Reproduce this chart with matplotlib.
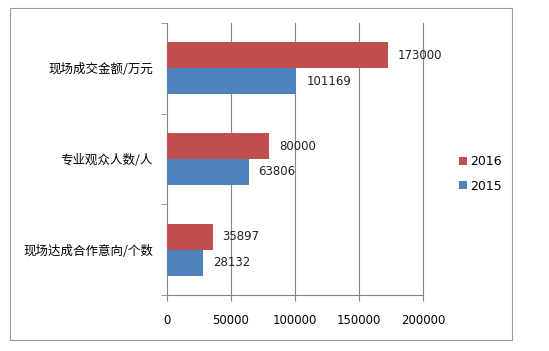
import matplotlib
matplotlib.use("Agg")
import matplotlib.pyplot as plt
from matplotlib.patches import Rectangle
import numpy as np

plt.rcParams['font.family'] = ['Noto Sans CJK SC', 'DejaVu Sans']

categories = ["现场达成合作意向/个数", "专业观众人数/人", "现场成交金额/万元"]
values_2015 = [28132, 63806, 101169]
values_2016 = [35897, 80000, 173000]
series_names = ["2016", "2015"]
xticks = [0, 50000, 100000, 150000, 200000]

red = "#C0504D"
blue = "#4F81BD"
grey = "#868686"

W, H = 549, 351
fig = plt.figure(figsize=(W / 100, H / 100), dpi=100)
fig.patch.set_facecolor("white")

# axes box in pixel coords: x 167..423, y 23..295
ax = fig.add_axes([167 / W, 1 - 295 / H, (423 - 167) / W, (295 - 23) / H])

y = np.arange(len(categories))
h = 0.285
ax.barh(y + h / 2, values_2016, height=h, color=red, label=series_names[0], zorder=3)
ax.barh(y - h / 2, values_2015, height=h, color=blue, label=series_names[1], zorder=3)

for yi, v in zip(y, values_2016):
    ax.annotate(str(v), (v, yi + h / 2), xytext=(7, 0), textcoords="offset points",
                va="center", ha="left", fontsize=8.5, color="#222222", family="DejaVu Sans")
for yi, v in zip(y, values_2015):
    ax.annotate(str(v), (v, yi - h / 2), xytext=(7, 0), textcoords="offset points",
                va="center", ha="left", fontsize=8.5, color="#222222", family="DejaVu Sans")

ax.set_xlim(0, 200000)
ax.set_ylim(-0.5, len(categories) - 0.5)
ax.set_xticks(xticks)
ax.set_xticklabels([str(t) for t in xticks], fontsize=8.5, family="DejaVu Sans")
ax.tick_params(axis="x", length=4, color=grey, pad=10)

# category labels centered, boundary ticks on left
ax.set_yticks(y)
ax.set_yticklabels(categories, fontsize=9)
ax.tick_params(axis="y", length=0, pad=10)
ax.set_yticks(np.arange(-0.5, len(categories), 1), minor=True)
ax.tick_params(axis="y", which="minor", length=4, color=grey)

# vertical gridlines (not clipped so the 200000 line shows fully)
for t in xticks[1:]:
    ax.axvline(t, color=grey, linewidth=0.8, zorder=0, clip_on=False)
for s in ["top", "right"]:
    ax.spines[s].set_visible(False)
for s in ["left", "bottom"]:
    ax.spines[s].set_color(grey)
    ax.spines[s].set_linewidth(0.8)

leg = ax.legend(loc="center left", bbox_to_anchor=(448 / W, 1 - 174 / H),
                bbox_transform=fig.transFigure, frameon=False,
                handlelength=0.6, handleheight=0.6, handletextpad=0.3,
                labelspacing=0.9, prop={"family": "DejaVu Sans", "size": 9})

# outer chart border
fig.patches.append(Rectangle((10 / W, 1 - 340 / H), (512 - 10) / W, (340 - 8) / H,
                             transform=fig.transFigure, fill=False,
                             edgecolor="#9a9a9a", linewidth=0.8))

fig.savefig("out.png", dpi=100)
